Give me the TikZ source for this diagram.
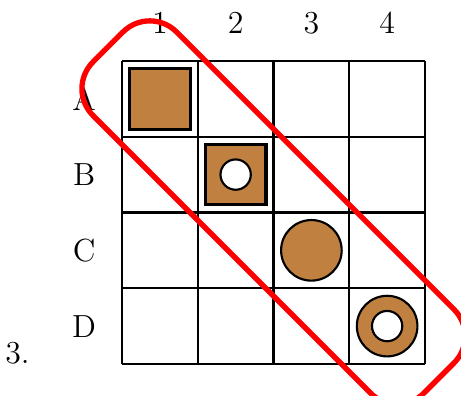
\documentclass[tikz,border=0pt]{standalone}
\usepackage{tikz}
\usetikzlibrary{positioning}
\definecolor{piecebrown}{RGB}{192, 128, 64}
\tikzset{
  gridline/.style={thick, black},
  sqpiece/.style={draw=black, very thick, fill=piecebrown},
  rdpiece/.style={draw=black, thick, fill=piecebrown},
  hole/.style={draw=black, thick, fill=white},
  lbl/.style={font=\large, inner sep=0pt},
  diagband/.style={draw=red, line width=2pt, rounded corners=0.5cm, rotate=-45,
                   minimum width=6.18cm, minimum height=1.56cm},
}

\begin{document}
\begin{tikzpicture}
  \useasboundingbox (-1.611,-0.422) rectangle (4.475,4.805);
  % board
  \draw[gridline] (0,0) grid (4,4);
  \foreach \n [count=\i] in {1,2,3,4}
    \node[lbl] (col\i) at (\i-0.5,4.5) {\n};
  \foreach \r [count=\i] in {A,B,C,D}
    \node[lbl] (row\i) at (-0.5,4.5-\i) {\r};
  \node[lbl] (num) at (-1.38,0.145) {3.};
  % pieces
  \draw[sqpiece] (0.1,3.1) rectangle (0.9,3.9);
  \draw[sqpiece] (1.1,2.1) rectangle (1.9,2.9);
  \draw[hole] (1.5,2.5) circle (0.2);
  \draw[rdpiece] (2.5,1.5) circle (0.4);
  \draw[rdpiece] (3.5,0.5) circle (0.4);
  \draw[hole] (3.5,0.5) circle (0.2);
  % diagonal
  \node[diagband] (band) at (2,2) {};
\end{tikzpicture}
\end{document}
